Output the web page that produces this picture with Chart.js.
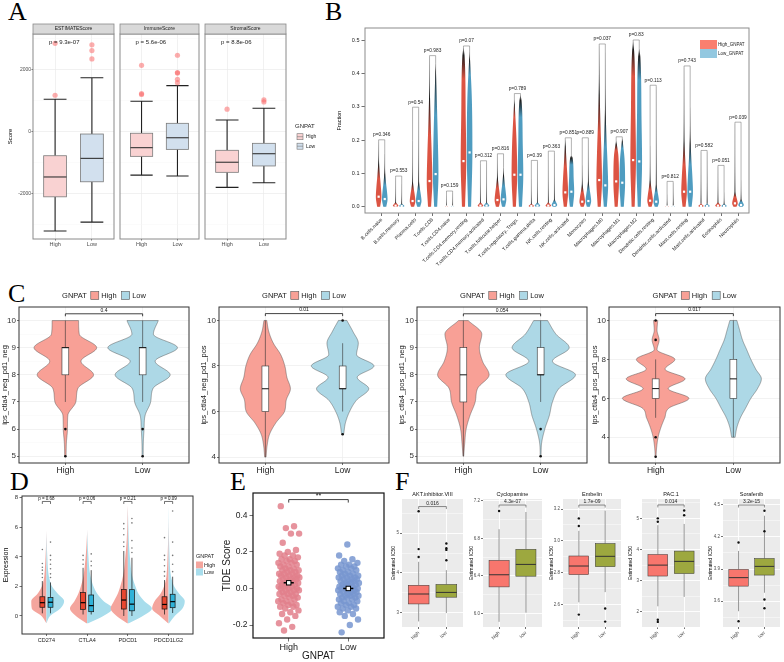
<!DOCTYPE html>
<html>
<head>
<meta charset="utf-8">
<script src="https://cdn.jsdelivr.net/npm/chart.js@4.4.1/dist/chart.umd.min.js"></script>
<style>
  body { margin: 0; background: #fff; width: 784px; height: 662px; overflow: hidden; position: relative; }
  canvas { position: absolute; }
  .lab { position: absolute; font-family: 'Liberation Serif', 'Times New Roman', serif; font-size: 26px; line-height: 26px; color: #000; }
</style>
</head>
<body>
<div class="lab" style="left:8px;top:-1px">A</div>
<div class="lab" style="left:325px;top:-1px">B</div>
<div class="lab" style="left:8px;top:281px">C</div>
<div class="lab" style="left:10px;top:469px">D</div>
<div class="lab" style="left:230px;top:469px">E</div>
<div class="lab" style="left:395px;top:469px">F</div>
<script>
// ---- A: ESTIMATE scores by GNPAT group ----
const aFacets = ['ESTIMATEScore', 'ImmuneScore', 'StromalScore'];
const aGroups = ['High', 'Low'];
const aPvals = ['p = 9.3e-07', 'p = 5.6e-06', 'p = 8.8e-06'];
// [lower whisker, q1, median, q3, upper whisker]
const aHighStats = [[-3200, -2100, -1460, -775, 1045], [-1400, -795, -515, -50, 980], [-1795, -1310, -985, -600, 375]];
const aLowStats = [[-2915, -1615, -860, -75, 1740], [-1430, -570, -195, 270, 1485], [-1645, -1105, -710, -375, 755]];
const aHighOut = [[1175, 2850], [1200, 1230, 2140], [725]];
const aLowOut = [[2345, 2615, 2800], [1580, 1690, 1890, 1905, 2465], [960, 1025]];

// ---- B: immune cell fractions ----
const bCells = ['B.cells.naive', 'B.cells.memory', 'Plasma.cells', 'T.cells.CD8', 'T.cells.CD4.naive',
  'T.cells.CD4.memory.resting', 'T.cells.CD4.memory.activated', 'T.cells.follicular.helper',
  'T.cells.regulatory..Tregs.', 'T.cells.gamma.delta', 'NK.cells.resting', 'NK.cells.activated', 'Monocytes',
  'Macrophages.M0', 'Macrophages.M1', 'Macrophages.M2', 'Dendritic.cells.resting', 'Dendritic.cells.activated',
  'Mast.cells.resting', 'Mast.cells.activated', 'Eosinophils', 'Neutrophils'];
const bPvals = ['0.346', '0.553', '0.54', '0.983', '0.159', '0.07', '0.312', '0.816', '0.789', '0.39', '0.363',
  '0.851', '0.889', '0.037', '0.907', '0.83', '0.113', '0.812', '0.743', '0.582', '0.051', '0.039'];
const bHighMax = [0.197, 0.088, 0.198, 0.45, 0.035, 0.479, 0.13, 0.155, 0.323, 0.085, 0.14, 0.203, 0.125, 0.485, 0.198, 0.497, 0.183, 0.037, 0.419, 0.165, 0.12, 0.25];
const bLowMax = [0.16, 0.068, 0.295, 0.429, 0.043, 0.465, 0.134, 0.118, 0.336, 0.135, 0.163, 0.154, 0.203, 0.464, 0.206, 0.475, 0.361, 0.072, 0.299, 0.165, 0.043, 0.08];
const bHighMed = [0.03, 0.003, 0.017, 0.077, 0.0005, 0.137, 0.003, 0.02, 0.096, 0.002, 0.003, 0.043, 0.015, 0.08, 0.076, 0.14, 0.018, 0.0005, 0.045, 0.002, 0.003, 0.01];
const bLowMed = [0.023, 0.002, 0.017, 0.098, 0.0005, 0.163, 0.003, 0.022, 0.096, 0.003, 0.005, 0.045, 0.017, 0.064, 0.072, 0.136, 0.015, 0.0005, 0.045, 0.002, 0.002, 0.005];

// ---- C: IPS violins ----
const cTitles = ['ips_ctla4_neg_pd1_neg', 'ips_ctla4_neg_pd1_pos', 'ips_ctla4_pos_pd1_neg', 'ips_ctla4_pos_pd1_pos'];
const cPvals = ['0.4', '0.01', '0.054', '0.017'];
const cBracket = [10.25, 10.3, 10.25, 10.35];
const cGrid = [3, 3.5, 4, 4.5, 5, 5.5, 6, 6.5, 7, 7.5, 8, 8.5, 9, 9.5, 10];
const cHighDens = [
  [null, null, null, null, 0.02, 0.03, 0.06, 0.07, 0.3, 0.36, 0.81, 0.45, 0.9, 0.4, 0.38],
  [null, null, 0.02, 0.05, 0.12, 0.3, 0.55, 0.6, 0.72, 0.62, 0.56, 0.44, 0.23, 0.1, 0.04],
  [null, null, null, null, 0.01, 0.04, 0.08, 0.19, 0.34, 0.41, 0.74, 0.55, 0.46, 0.53, 0.14],
  [0.01, 0.03, 0.07, 0.15, 0.26, 0.38, 0.95, 0.36, 0.84, 0.27, 0.55, 0.04, 0.1, 0.04, 0.06]];
const cLowDens = [
  [null, null, null, null, 0.015, 0.02, 0.04, 0.07, 0.23, 0.3, 0.79, 0.36, 1.0, 0.31, 0.45],
  [null, null, null, null, 0.03, 0.08, 0.2, 0.4, 0.75, 0.42, 0.9, 0.4, 0.45, 0.3, 0.12],
  [null, null, null, null, 0.01, 0.03, 0.12, 0.25, 0.34, 0.53, 1.0, 0.34, 0.82, 0.44, 0.2],
  [null, null, 0.05, 0.1, 0.2, 0.35, 0.5, 0.69, 0.8, 0.64, 0.5, 0.38, 0.26, 0.18, 0.1]];
const cHighStats = [[7, 8, 9, 9, 10], [4, 6, 7, 8, 10], [5, 7, 8, 9, 10], [5, 6, 6.5, 7, 8]];
const cLowStats = [[7, 8, 9, 9, 10], [6, 7, 7, 8, 9], [7, 8, 8, 9, 10], [4, 6, 7, 8, 10]];
const cHighOut = [[6, 5], [], [], [10, 9, 4, 3]];
const cLowOut = [[6, 5], [10, 5], [6, 5], []];

// ---- D: checkpoint gene expression ----
const dGenes = ['CD274', 'CTLA4', 'PDCD1', 'PDCD1LG2'];
const dPvals = ['p = 0.68', 'p = 0.06', 'p = 0.21', 'p = 0.09'];
const dGrid = [-0.5, 0, 0.5, 1, 1.5, 2, 2.5, 3, 4, 5, 6, 7, 7.5];
const dHighDens = [
  [0, 0.2, 0.58, 0.6, 0.35, 0.18, 0.1, 0.07, 0.035, 0.012, 0, 0, 0],
  [0.03, 0.45, 0.68, 0.5, 0.35, 0.25, 0.17, 0.12, 0.06, 0.02, 0, 0, 0],
  [0.03, 0.45, 0.68, 0.55, 0.4, 0.3, 0.22, 0.16, 0.1, 0.05, 0.025, 0.01, 0],
  [0.02, 0.35, 0.65, 0.55, 0.32, 0.18, 0.1, 0.07, 0.04, 0.02, 0.005, 0, 0]];
const dLowDens = [
  [0, 0.15, 0.55, 0.7, 0.45, 0.22, 0.12, 0.07, 0.035, 0.012, 0, 0, 0],
  [0.04, 0.65, 1.0, 0.65, 0.4, 0.25, 0.16, 0.1, 0.05, 0.02, 0, 0, 0],
  [0.04, 0.6, 0.95, 0.65, 0.42, 0.3, 0.2, 0.14, 0.08, 0.04, 0.02, 0.005, 0],
  [0.02, 0.25, 0.55, 0.64, 0.42, 0.22, 0.12, 0.07, 0.04, 0.02, 0.01, 0.005, 0]];
const dHighStats = [[0.18, 0.59, 0.9, 1.3, 2.36], [0.1, 0.45, 0.9, 1.58, 3.26], [0, 0.47, 1.08, 1.8, 4.4], [0.1, 0.47, 0.78, 1.3, 2.43]];
const dLowStats = [[0.18, 0.59, 0.93, 1.25, 2.27], [0.1, 0.29, 0.7, 1.42, 3.1], [0, 0.35, 0.8, 1.78, 3.94], [0.2, 0.56, 0.97, 1.47, 2.66]];
const dHighOut = [[2.6, 2.85, 3.1, 3.3, 3.55, 4.5], [3.5, 3.8, 4.1], [4.7, 5.0, 5.5, 5.9, 6.25], [2.7, 3.0, 3.4, 3.8, 4.1, 5.3]];
const dLowOut = [[2.6, 2.85, 3.2, 3.5, 3.8, 4.1, 5.0], [3.4, 3.7, 4.2], [4.3, 4.6, 5.1, 6.3, 6.6], [3.0, 3.5, 4.1, 5.0, 7.1]];

// ---- E: TIDE score ----
const eHigh = [0.45, 0.34, 0.33, 0.30, 0.30, 0.25, 0.21, 0.20, 0.19, 0.18, 0.18, 0.17, 0.16, 0.16, 0.15, 0.15, 0.14, 0.14,
  0.13, 0.13, 0.12, 0.12, 0.11, 0.11, 0.10, 0.10, 0.10, 0.09, 0.09, 0.08, 0.08, 0.08, 0.07, 0.07, 0.07, 0.06, 0.06, 0.06,
  0.05, 0.05, 0.05, 0.04, 0.04, 0.04, 0.03, 0.03, 0.03, 0.02, 0.02, 0.02, 0.01, 0.01, 0.01, 0.00, 0.00, 0.00, -0.01,
  -0.01, -0.01, -0.02, -0.02, -0.03, -0.03, -0.03, -0.04, -0.04, -0.05, -0.05, -0.06, -0.06, -0.07, -0.07, -0.08,
  -0.08, -0.09, -0.09, -0.10, -0.10, -0.11, -0.12, -0.13, -0.14, -0.15, -0.17, -0.19, -0.21, -0.23];
const eLow = [0.24, 0.18, 0.16, 0.15, 0.14, 0.13, 0.13, 0.12, 0.12, 0.11, 0.11, 0.10, 0.10, 0.09, 0.09, 0.08, 0.08, 0.07,
  0.07, 0.07, 0.06, 0.06, 0.06, 0.05, 0.05, 0.05, 0.04, 0.04, 0.04, 0.03, 0.03, 0.03, 0.02, 0.02, 0.02, 0.01, 0.01, 0.01,
  0.00, 0.00, 0.00, -0.01, -0.01, -0.01, -0.02, -0.02, -0.02, -0.03, -0.03, -0.03, -0.04, -0.04, -0.04, -0.05, -0.05,
  -0.05, -0.06, -0.06, -0.07, -0.07, -0.08, -0.08, -0.09, -0.09, -0.10, -0.10, -0.11, -0.11, -0.12, -0.13, -0.14,
  -0.15, -0.17, -0.20, -0.24];
const eMeans = [0.031, 0.0];

// ---- F: drug sensitivity ----
const fDrugs = ['AKT.inhibitor.VIII', 'Cyclopamine', 'Embelin', 'PAC.1', 'Sorafenib'];
const fPvals = ['0.016', '4.3e-07', '1.7e-09', '0.014', '3.2e-15'];
const fTicks = [[3, 4, 5], [6.0, 6.4, 6.8, 7.2], [2.6, 2.8, 3.0, 3.2], [2, 3, 4, 5], [3.6, 3.9, 4.2, 4.5]];
const fMinor = [[3.5, 4.5, 5.5], [6.2, 6.6, 7.0], [2.5, 2.7, 2.9, 3.1], [1.5, 2.5, 3.5, 4.5, 5.5], [3.45, 3.75, 4.05, 4.35]];
const fRange = [[2.64, 5.86], [5.858, 7.218], [2.459, 3.263], [1.516, 5.62], [3.36, 4.553]];
const fBracket = [5.67, 7.154, 3.225, 5.43, 4.497];
const fHighStats = [[2.78, 3.22, 3.47, 3.69, 4.28], [5.913, 6.284, 6.413, 6.566, 6.897], [2.614, 2.788, 2.842, 2.905, 3.063], [2.18, 3.15, 3.5, 3.84, 4.78], [3.507, 3.741, 3.82, 3.897, 4.069]];
const fLowStats = [[2.99, 3.39, 3.51, 3.71, 4.07], [6.01, 6.398, 6.523, 6.683, 7.08], [2.678, 2.838, 2.903, 2.983, 3.19], [2.48, 3.23, 3.62, 3.95, 4.82], [3.679, 3.844, 3.925, 3.998, 4.397]];
const fHighOut = [[5.55, 4.6, 4.4], [7.09], [3.141, 3.093, 2.537], [5.0, 4.89, 1.75, 1.68], [4.148, 3.413]];
const fLowOut = [[4.74, 4.62, 4.58, 4.32], [], [2.575, 2.493], [5.25, 5.1], [4.444, 4.253, 3.616, 3.535]];

const FONT = "'Liberation Sans', Arial, sans-serif";
Chart.defaults.font.family = FONT;
Chart.defaults.color = '#333';

// monotone cubic, used to smooth violin outlines between read widths
function mono(X, Y) {
  const n = X.length;
  if (n === 1) return () => Y[0];
  const d = [], m = [];
  for (let i = 0; i < n - 1; i++) d.push((Y[i + 1] - Y[i]) / (X[i + 1] - X[i]));
  m[0] = d[0]; m[n - 1] = d[n - 2];
  for (let i = 1; i < n - 1; i++) m[i] = d[i - 1] * d[i] <= 0 ? 0 : (d[i - 1] + d[i]) / 2;
  for (let i = 0; i < n - 1; i++) {
    if (d[i] === 0) { m[i] = 0; m[i + 1] = 0; continue; }
    const a = m[i] / d[i], b = m[i + 1] / d[i], s = a * a + b * b;
    if (s > 9) { const t = 3 / Math.sqrt(s); m[i] = t * a * d[i]; m[i + 1] = t * b * d[i]; }
  }
  return x => {
    x = Math.min(Math.max(x, X[0]), X[n - 1]);
    let i = 0;
    while (i < n - 2 && x > X[i + 1]) i++;
    const h = X[i + 1] - X[i], t = (x - X[i]) / h, t2 = t * t, t3 = t2 * t;
    return (2 * t3 - 3 * t2 + 1) * Y[i] + (t3 - 2 * t2 + t) * h * m[i] + (-2 * t3 + 3 * t2) * Y[i + 1] + (t3 - t2) * h * m[i + 1];
  };
}

function pick(grid, w) {
  const v = [], ww = [];
  grid.forEach((g, i) => { if (w[i] != null) { v.push(g); ww.push(w[i]); } });
  return [v, ww];
}

// side: -1 left half, 1 right half, 0 full
function violinPath(ctx, xs, ys, pos, vals, wids, maxHalf, side) {
  const f = mono(vals, wids);
  const yb = ys.getPixelForValue(vals[0]), yt = ys.getPixelForValue(vals[vals.length - 1]);
  const xc = xs.getPixelForValue(pos), u = xs.getPixelForValue(pos + maxHalf) - xc;
  const pts = [];
  for (let py = yb; py > yt; py -= 0.5) pts.push([py, Math.max(0, f(ys.getValueForPixel(py))) * u]);
  pts.push([yt, Math.max(0, wids[wids.length - 1]) * u]);
  ctx.beginPath();
  pts.forEach(([py, w], i) => { const x = side >= 0 ? xc + w : xc; i ? ctx.lineTo(x, py) : ctx.moveTo(x, py); });
  for (let i = pts.length - 1; i >= 0; i--) ctx.lineTo(side <= 0 ? xc - pts[i][1] : xc, pts[i][0]);
  ctx.closePath();
}

function drawBox(ctx, xs, ys, pos, hw, st, s) {
  const xc = xs.getPixelForValue(pos), x0 = xs.getPixelForValue(pos - hw), x1 = xs.getPixelForValue(pos + hw);
  const p = st.map(v => ys.getPixelForValue(v));
  ctx.save();
  ctx.strokeStyle = s.whisker || s.stroke; ctx.lineWidth = s.wlw || s.lw;
  ctx.beginPath();
  ctx.moveTo(xc, p[3]); ctx.lineTo(xc, p[4]); ctx.moveTo(xc, p[1]); ctx.lineTo(xc, p[0]);
  if (s.cap) {
    const c0 = xs.getPixelForValue(pos - s.cap), c1 = xs.getPixelForValue(pos + s.cap);
    ctx.moveTo(c0, p[4]); ctx.lineTo(c1, p[4]); ctx.moveTo(c0, p[0]); ctx.lineTo(c1, p[0]);
  }
  ctx.stroke();
  ctx.fillStyle = s.fill; ctx.fillRect(x0, p[3], x1 - x0, p[1] - p[3]);
  ctx.lineWidth = s.lw; ctx.strokeStyle = s.stroke; ctx.strokeRect(x0, p[3], x1 - x0, p[1] - p[3]);
  ctx.beginPath(); ctx.lineWidth = s.mlw || s.lw * 2; ctx.strokeStyle = s.median || s.stroke;
  ctx.moveTo(x0, p[2]); ctx.lineTo(x1, p[2]); ctx.stroke();
  ctx.restore();
}

function bracket(ctx, xs, ys, x1, x2, yv, leg, label, size, color, lw, gap) {
  const a = xs.getPixelForValue(x1), b = xs.getPixelForValue(x2), y = ys.getPixelForValue(yv);
  ctx.save();
  ctx.strokeStyle = color; ctx.lineWidth = lw;
  ctx.beginPath(); ctx.moveTo(a, y + leg); ctx.lineTo(a, y); ctx.lineTo(b, y); ctx.lineTo(b, y + leg); ctx.stroke();
  ctx.fillStyle = color; ctx.font = size + 'px ' + FONT; ctx.textAlign = 'center'; ctx.textBaseline = 'bottom';
  ctx.fillText(label, (a + b) / 2, y - gap);
  ctx.restore();
}

function text(ctx, s, x, y, size, color, align, base) {
  ctx.save();
  ctx.font = size + 'px ' + FONT; ctx.fillStyle = color;
  ctx.textAlign = align || 'left'; ctx.textBaseline = base || 'middle';
  ctx.fillText(s, x, y);
  ctx.restore();
}

function frame(ctx, ca, color, lw) {
  ctx.save(); ctx.strokeStyle = color; ctx.lineWidth = lw;
  ctx.strokeRect(ca.left, ca.top, ca.right - ca.left, ca.bottom - ca.top);
  ctx.restore();
}

function scaleOpts(a, axis, size) {
  const major = a.ticks, all = major.concat(a.minor || []).sort((p, q) => p - q);
  const isMajor = v => major.some(m => Math.abs(m - v) < 1e-9);
  return {
    type: 'linear', position: axis === 'x' ? 'bottom' : 'left', min: a.min, max: a.max,
    afterFit: s => { if (axis === 'x') s.height = size; else s.width = size; },
    afterBuildTicks: s => { s.ticks = all.map(v => ({ value: v })); },
    ticks: {
      display: a.labels !== false, autoSkip: false,
      maxRotation: a.rot || 0, minRotation: a.rot || 0,
      padding: a.pad ?? 1.5, color: a.color || '#4D4D4D', font: { size: a.font || 6 },
      callback: v => isMajor(v) ? (a.fmt ? a.fmt(v) : String(v)) : ''
    },
    grid: {
      display: true, drawOnChartArea: !!a.grid,
      color: c => (c.tick && isMajor(c.tick.value)) ? (a.grid || 'rgba(0,0,0,0)') : (a.gridMinor || 'rgba(0,0,0,0)'),
      lineWidth: c => (c.tick && isMajor(c.tick.value)) ? (a.gridW ?? 0.7) : (a.gridMinorW ?? 0.4),
      drawTicks: (a.tick ?? 2) > 0, tickLength: a.tick ?? 2,
      tickColor: c => (c.tick && isMajor(c.tick.value)) ? (a.tickColor || '#333') : 'rgba(0,0,0,0)',
      tickWidth: a.tickW ?? 0.7
    },
    border: { display: false },
    title: a.title
      ? { display: true, text: a.title, color: a.titleColor || '#000', font: { size: a.titleFont || 7 }, padding: a.titlePad || { top: 0, bottom: 0 } }
      : { display: false }
  };
}

function makeChart(o) {
  const cv = document.createElement('canvas');
  const W = o.r - o.l + o.ml + o.mr, H = o.b - o.t + o.mt + o.mb;
  cv.width = W; cv.height = H;
  cv.style.left = (o.l - o.ml) + 'px'; cv.style.top = (o.t - o.mt) + 'px';
  cv.style.width = W + 'px'; cv.style.height = H + 'px';
  document.body.appendChild(cv);
  const h = o.hooks || {};
  const call = (fn, c) => fn && fn(c, c.ctx, c.scales.x, c.scales.y, c.chartArea);
  return new Chart(cv, {
    type: 'scatter',
    data: { datasets: o.datasets || [] },
    options: {
      responsive: false, animation: false, devicePixelRatio: 1, events: [],
      layout: { padding: { left: 0, top: o.mt, right: o.mr, bottom: 0 } },
      plugins: { legend: { display: false }, tooltip: { enabled: false } },
      scales: { x: scaleOpts(o.x, 'x', o.mb), y: scaleOpts(o.y, 'y', o.ml) }
    },
    plugins: [{
      id: 'marks',
      beforeDraw: c => call(h.bg, c),
      beforeDatasetsDraw: c => call(h.under, c),
      afterDatasetsDraw: c => call(h.over, c),
      afterDraw: c => call(h.top, c)
    }]
  });
}

const pts = (pos, vals) => vals.map(v => ({ x: pos, y: v }));

// ================= A =================
const aFill = ['#F9D2D2', '#D2E0EE'];
aFacets.forEach((name, k) => {
  const L = [33, 119, 204][k], R = [116, 201, 286][k];
  makeChart({
    l: L, t: 34, r: R, b: 239, ml: k ? 3 : 33, mt: 14, mr: k === 2 ? 46 : 2, mb: 13,
    x: { min: 0.4, max: 2.6, ticks: [1, 2], fmt: v => aGroups[v - 1], font: 5.5, grid: '#EBEBEB', tick: 1.5, pad: 1 },
    y: { min: -3460, max: 3150, ticks: [-2000, 0, 2000], minor: [-3000, -1000, 1000, 3000], labels: k === 0, font: 5,
      grid: '#EBEBEB', gridMinor: '#F5F5F5', tick: k === 0 ? 1.5 : 0, pad: 0.5,
      title: k === 0 ? 'Score' : null, titleFont: 6, titlePad: { top: 7, bottom: 0 } },
    datasets: [{ data: pts(1, aHighOut[k]).concat(pts(2, aLowOut[k])), pointRadius: 2.6, borderWidth: 0, backgroundColor: 'rgba(250,105,105,0.55)' }],
    hooks: {
      under: (c, ctx, xs, ys) => {
        [aHighStats[k], aLowStats[k]].forEach((st, g) => drawBox(ctx, xs, ys, g + 1, 0.31, st,
          { fill: aFill[g], stroke: '#7a7a7a', lw: 0.8, whisker: '#222', wlw: 1.1, cap: 0.31, median: '#333', mlw: 1.1 }));
      },
      top: (c, ctx, xs, ys, ca) => {
        frame(ctx, ca, '#8a8a8a', 1);
        ctx.save();
        ctx.fillStyle = '#D9D9D9'; ctx.fillRect(ca.left, ca.top - 10, ca.right - ca.left, 10);
        ctx.strokeStyle = '#8a8a8a'; ctx.lineWidth = 0.8; ctx.strokeRect(ca.left, ca.top - 10, ca.right - ca.left, 10);
        ctx.restore();
        text(ctx, name, (ca.left + ca.right) / 2, ca.top - 5, 5, '#1A1A1A', 'center');
        text(ctx, aPvals[k], xs.getPixelForValue(0.835), ys.getPixelForValue(2890), 6, '#222', 'left');
        if (k === 2) {
          const x = ca.right + 9, y = ca.top + 92.7;
          text(ctx, 'GNPAT', x, y, 6, '#222', 'left');
          ['High', 'Low'].forEach((g, i) => {
            const yy = y + 7 + i * 9.5;
            ctx.save();
            ctx.fillStyle = aFill[i]; ctx.fillRect(x + 2, yy, 6, 6);
            ctx.strokeStyle = '#777'; ctx.lineWidth = 0.6; ctx.strokeRect(x + 2, yy, 6, 6);
            ctx.beginPath(); ctx.moveTo(x + 2, yy + 3); ctx.lineTo(x + 8, yy + 3); ctx.stroke();
            ctx.restore();
            text(ctx, g, x + 11, yy + 3, 5, '#222', 'left');
          });
        }
      }
    }
  });
});

// ================= B =================
const bViolin = ['#DC5443', '#4F9CC0'];
const bKey = ['#FA7F6F', '#93C8E0'];
makeChart({
  l: 365, t: 28, r: 749, b: 213, ml: 35, mt: 8, mr: 35, mb: 77,
  x: { min: 0.016, max: 22.648, ticks: bCells.map((_, i) => i + 1), fmt: v => bCells[v - 1], rot: 45, font: 5, color: '#222', tick: 3, pad: 1 },
  y: { min: -0.019, max: 0.537, ticks: [0, 0.1, 0.2, 0.3, 0.4, 0.5], fmt: v => v.toFixed(1), font: 5.5, color: '#222', tick: 3.5, pad: 2,
    title: 'Fraction', titleFont: 5.5, titlePad: { top: 6.5, bottom: 0 } },
  hooks: {
    under: (c, ctx, xs, ys) => {
      bCells.forEach((_, i) => {
        [[bHighMax[i], bHighMed[i], -0.18], [bLowMax[i], bLowMed[i], 0.18]].forEach(([mx, md, off], g) => {
          const pos = i + 1 + off, xc = xs.getPixelForValue(pos);
          const v = [0], w = [0.55];
          [[md, 1], [2 * md, 0.8], [3.3 * md, 0.4], [4.6 * md, 0.12]].forEach(([vv, ww]) => { if (vv < mx * 0.97) { v.push(vv); w.push(ww); } });
          v.push(mx); w.push(0.03);
          const y0 = ys.getPixelForValue(0), yt = ys.getPixelForValue(mx);
          ctx.save();
          ctx.strokeStyle = '#777'; ctx.lineWidth = 0.55;
          ctx.beginPath(); ctx.moveTo(xc, y0); ctx.lineTo(xc, yt); ctx.stroke();
          const gr = ctx.createLinearGradient(0, y0, 0, yt);
          const f1 = Math.min(0.85, 2.8 * md / mx), f2 = Math.min(0.95, Math.max(f1 + 0.05, 4.2 * md / mx));
          gr.addColorStop(0, bViolin[g]); gr.addColorStop(f1, bViolin[g]); gr.addColorStop(f2, '#1c1c1c'); gr.addColorStop(1, '#9a9a9a');
          violinPath(ctx, xs, ys, pos, v, w, 0.165, 0);
          ctx.fillStyle = gr; ctx.fill();
          ctx.fillStyle = '#fff';
          ctx.fillRect(xc - 1.1, ys.getPixelForValue(md) - 1.1, 2.2, 2.2);
          ctx.restore();
        });
        const top = Math.max(bHighMax[i], bLowMax[i]) + 0.004;
        const a = xs.getPixelForValue(i + 1 - 0.18), b = xs.getPixelForValue(i + 1.18), yb = ys.getPixelForValue(top);
        ctx.save();
        ctx.strokeStyle = '#666'; ctx.lineWidth = 0.5;
        ctx.beginPath();
        ctx.moveTo(a, ys.getPixelForValue(bHighMax[i])); ctx.lineTo(a, yb); ctx.lineTo(b, yb); ctx.lineTo(b, ys.getPixelForValue(bLowMax[i]));
        ctx.stroke();
        ctx.restore();
        text(ctx, 'p=' + bPvals[i], xs.getPixelForValue(i + 1), yb - 2.5, 4.8, '#222', 'center', 'bottom');
      });
    },
    top: (c, ctx, xs, ys, ca) => {
      frame(ctx, ca, '#8c8c8c', 1);
      const x = ca.right - 49, y = ca.top + 12;
      ['High_GNPAT', 'Low_GNPAT'].forEach((g, i) => {
        ctx.fillStyle = bKey[i]; ctx.fillRect(x, y + i * 9, 17, 9);
        text(ctx, g, x + 18, y + i * 9 + 4.5, 4.5, '#222', 'left');
      });
    }
  }
});

// ================= C =================
const cFill = ['#F8A096', '#ADD8E6'];
function cLegend(ctx, ca) {
  ctx.save();
  ctx.font = '7.5px ' + FONT;
  const tw = s => ctx.measureText(s).width;
  const total = tw('GNPAT') + 4 + 8 + 2.5 + tw('High') + 5 + 8 + 2.5 + tw('Low');
  let x = (ca.left + ca.right) / 2 - total / 2;
  const y = ca.top - 11.5;
  text(ctx, 'GNPAT', x, y, 7.5, '#1a1a1a'); x += tw('GNPAT') + 4;
  ['High', 'Low'].forEach((g, i) => {
    ctx.fillStyle = cFill[i]; ctx.fillRect(x, y - 4, 8, 8);
    ctx.strokeStyle = '#555'; ctx.lineWidth = 0.6; ctx.strokeRect(x, y - 4, 8, 8);
    x += 10.5;
    text(ctx, g, x, y, 7.5, '#1a1a1a'); x += tw(g) + 5;
  });
  ctx.restore();
}
cTitles.forEach((title, k) => {
  const L = [19, 219, 417, 609][k], ML = [19, 24, 23, 19][k];
  const even = k === 1 || k === 3;
  const yr = [[4.75, 10.5], [3.74, 10.59], [4.75, 10.5], [2.68, 10.69]][k];
  makeChart({
    l: L, t: 307, r: L + 172, b: 463, ml: ML, mt: 23, mr: k === 3 ? 3 : 2, mb: 14,
    x: { min: 0.4, max: 2.6, ticks: [1, 2], fmt: v => ['High', 'Low'][v - 1], font: 8.5, color: '#1a1a1a', grid: '#EDEDED', tick: 2, pad: 0.5 },
    y: { min: yr[0], max: yr[1], ticks: even ? [4, 6, 8, 10] : [5, 6, 7, 8, 9, 10],
      minor: even ? [3, 5, 7, 9] : [5.5, 6.5, 7.5, 8.5, 9.5], font: 8, color: '#333', grid: '#EDEDED', gridMinor: '#F6F6F6', tick: 2, pad: 1,
      title, titleFont: 7.5, titleColor: '#1a1a1a', titlePad: { top: [0, 4, 3, 0.3][k], bottom: 0 } },
    datasets: [{ data: pts(1, cHighOut[k]).concat(pts(2, cLowOut[k])), pointRadius: 1.3, borderWidth: 0, backgroundColor: '#111' }],
    hooks: {
      under: (c, ctx, xs, ys) => {
        [cHighDens[k], cLowDens[k]].forEach((dens, g) => {
          const [v, w] = pick(cGrid, dens);
          ctx.save();
          violinPath(ctx, xs, ys, g + 1, v, w, 0.45, 0);
          ctx.fillStyle = cFill[g]; ctx.fill();
          ctx.strokeStyle = '#555'; ctx.lineWidth = 0.5; ctx.stroke();
          ctx.restore();
        });
        [cHighStats[k], cLowStats[k]].forEach((st, g) => drawBox(ctx, xs, ys, g + 1, 0.044, st,
          { fill: '#fff', stroke: '#333', lw: 0.6, whisker: '#333', wlw: 0.6, median: '#111', mlw: 1 }));
      },
      top: (c, ctx, xs, ys, ca) => {
        frame(ctx, ca, '#333', 1);
        cLegend(ctx, ca);
        bracket(ctx, xs, ys, 1, 2, cBracket[k], 2.5, cPvals[k], 5, '#111', 0.8, 1);
      }
    }
  });
});

// ================= D =================
const dViolin = ['#F4A59D', '#A8DDEC'];
const dBox = ['#E8462F', '#2FB2D8'];
makeChart({
  l: 22, t: 496, r: 193, b: 634, ml: 22, mt: 8, mr: 43, mb: 14,
  x: { min: 0.4, max: 4.6, ticks: [1, 2, 3, 4], fmt: v => dGenes[v - 1], font: 5.5, color: '#222', tick: 2, pad: 1 },
  y: { min: -1.22, max: 8.12, ticks: [0, 2, 4, 6, 8], font: 6, color: '#333', tick: 2.5, pad: 1.5,
    title: 'Expression', titleFont: 7, titlePad: { top: 1.8, bottom: 0 } },
  datasets: [{
    data: dGenes.flatMap((_, i) => pts(i + 0.9, dHighOut[i]).concat(pts(i + 1.1, dLowOut[i]))),
    pointRadius: 0.8, borderWidth: 0, backgroundColor: '#777'
  }],
  hooks: {
    under: (c, ctx, xs, ys) => {
      dGenes.forEach((_, i) => {
        [dHighDens[i], dLowDens[i]].forEach((dens, g) => {
          violinPath(ctx, xs, ys, i + 1, dGrid, dens, 0.62, g ? 1 : -1);
          ctx.fillStyle = dViolin[g]; ctx.fill();
        });
        [dHighStats[i], dLowStats[i]].forEach((st, g) => drawBox(ctx, xs, ys, i + 1 + (g ? 0.1 : -0.1), 0.06, st,
          { fill: dBox[g], stroke: '#111', lw: 0.7, whisker: '#111', wlw: 0.7, median: '#000', mlw: 1.2 }));
      });
    },
    top: (c, ctx, xs, ys, ca) => {
      frame(ctx, ca, '#333', 1);
      dGenes.forEach((_, i) => bracket(ctx, xs, ys, i + 0.9, i + 1.1, 7.75, 2.5, dPvals[i], 4.5, '#111', 0.6, 0.6));
      const x = ca.right + 3, y = ca.top + 60;
      text(ctx, 'GNPAT', x, y, 5.5, '#222');
      ['High', 'Low'].forEach((g, i) => {
        ctx.fillStyle = dViolin[i]; ctx.fillRect(x, y + 5.5 + i * 7, 7, 7);
        text(ctx, g, x + 8, y + 9 + i * 7, 5.5, '#222');
      });
    }
  }
});

// ================= E =================
const jit = i => (((i * 0.6180339887 + 0.13) % 1) - 0.5) * 0.36;
makeChart({
  l: 253, t: 493, r: 384, b: 638, ml: 38, mt: 8, mr: 4, mb: 24,
  x: { min: 0.4, max: 2.6, ticks: [1, 2], fmt: v => ['High', 'Low'][v - 1], font: 9, color: '#1a1a1a', tick: 3.5, pad: 1,
    title: 'GNPAT', titleFont: 10, titleColor: '#1a1a1a', titlePad: { top: 0, bottom: 0 } },
  y: { min: -0.271, max: 0.522, ticks: [-0.2, 0, 0.2, 0.4], fmt: v => v.toFixed(1), font: 8.5, color: '#222', tick: 3.5, pad: 2,
    title: 'TIDE Score', titleFont: 10, titleColor: '#1a1a1a', titlePad: { top: 6.3, bottom: 0 } },
  datasets: [
    { data: eHigh.map((v, i) => ({ x: 1 + jit(i), y: v })), pointRadius: 3.2, borderWidth: 0, backgroundColor: 'rgba(226,128,140,0.85)' },
    { data: eLow.map((v, i) => ({ x: 2 + jit(i + 7), y: v })), pointRadius: 3.2, borderWidth: 0, backgroundColor: 'rgba(120,150,208,0.85)' }
  ],
  hooks: {
    over: (c, ctx, xs, ys) => {
      eMeans.forEach((m, g) => {
        const x0 = xs.getPixelForValue(g + 1 - 0.085), x1 = xs.getPixelForValue(g + 1.085), xc = xs.getPixelForValue(g + 1), y = ys.getPixelForValue(m);
        ctx.save();
        ctx.strokeStyle = '#000'; ctx.lineWidth = 1.5;
        ctx.beginPath(); ctx.moveTo(x0, y); ctx.lineTo(x1, y); ctx.stroke();
        ctx.fillStyle = '#fff'; ctx.lineWidth = 1;
        ctx.fillRect(xc - 2.2, y - 2.2, 4.4, 4.4); ctx.strokeRect(xc - 2.2, y - 2.2, 4.4, 4.4);
        ctx.restore();
      });
    },
    top: (c, ctx, xs, ys, ca) => {
      frame(ctx, ca, '#111', 1.2);
      bracket(ctx, xs, ys, 1, 2, 0.486, 3, '**', 7, '#111', 0.8, 0);
    }
  }
});

// ================= F =================
const fFill = ['#F8766D', '#9DA83F'];
fDrugs.forEach((drug, k) => {
  const L = [402, 483, 563, 642, 723][k], R = [466, 545, 624, 703, 783][k], ML = [16, 17, 17, 17, 18][k];
  makeChart({
    l: L, t: 499, r: R, b: 627, ml: ML, mt: 12, mr: 1, mb: 31,
    x: { min: 0.4, max: 2.6, ticks: [1, 2], fmt: v => ['high', 'low'][v - 1], rot: 45, font: 5, color: '#4D4D4D', grid: '#FFFFFF', gridW: 0.9, tick: 2, pad: 1 },
    y: { min: fRange[k][0], max: fRange[k][1], ticks: fTicks[k], minor: fMinor[k],
      fmt: v => (k === 0 || k === 3) ? String(v) : v.toFixed(1), font: 4.5, color: '#4D4D4D',
      grid: '#FFFFFF', gridW: 0.9, gridMinor: '#FFFFFF', gridMinorW: 0.45, tick: 2, pad: 1,
      title: 'Estimated IC50', titleFont: 5, titlePad: { top: [4.3, 3, 2.7, 2.3, 2.3][k], bottom: 0 } },
    datasets: [{ data: pts(1, fHighOut[k]).concat(pts(2, fLowOut[k])), pointRadius: 1.2, borderWidth: 0, backgroundColor: '#111' }],
    hooks: {
      bg: (c, ctx, xs, ys, ca) => { ctx.fillStyle = '#EBEBEB'; ctx.fillRect(ca.left, ca.top, ca.right - ca.left, ca.bottom - ca.top); },
      under: (c, ctx, xs, ys) => {
        [fHighStats[k], fLowStats[k]].forEach((st, g) => drawBox(ctx, xs, ys, g + 1, 0.375, st,
          { fill: fFill[g], stroke: '#333', lw: 0.5, whisker: '#333', wlw: 0.5, median: '#333', mlw: 1 }));
      },
      top: (c, ctx, xs, ys, ca) => {
        text(ctx, drug, (ca.left + ca.right) / 2, ca.top - 4.5, 5.5, '#111', 'center');
        bracket(ctx, xs, ys, 1, 2, fBracket[k], 2.5, fPvals[k], 5, '#222', 0.5, 0.5);
      }
    }
  });
});
</script>
</body>
</html>
